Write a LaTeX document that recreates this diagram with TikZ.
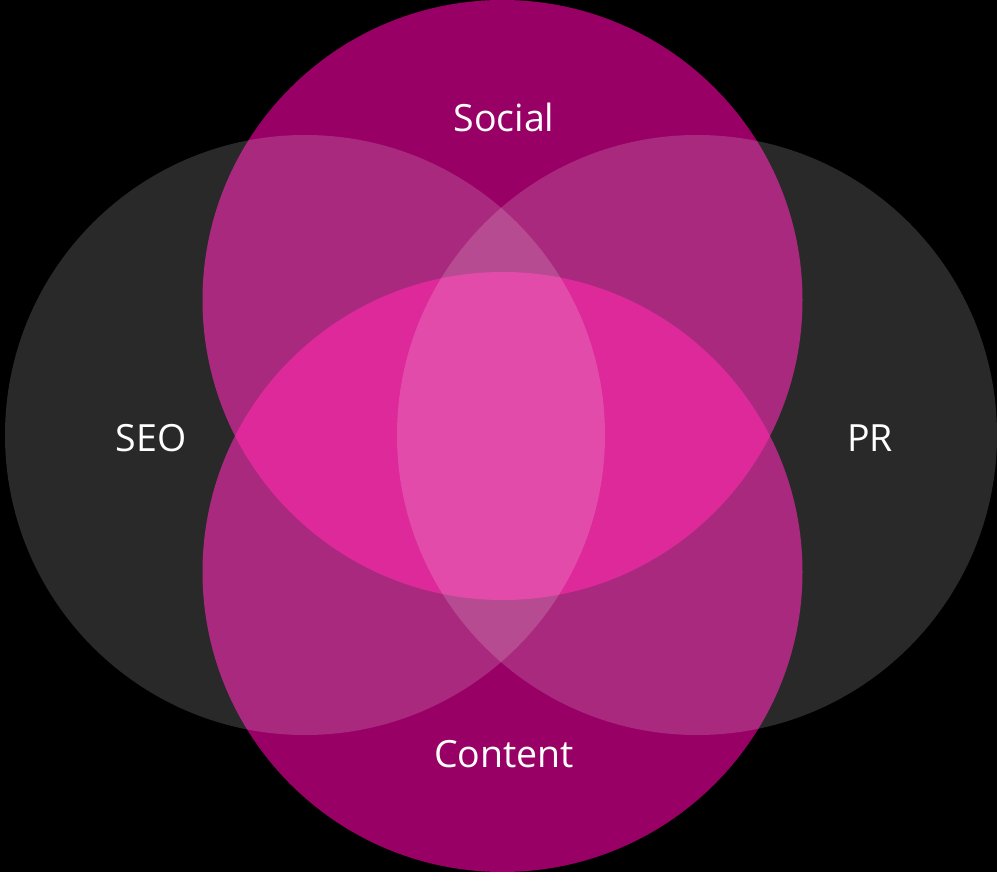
\documentclass[tikz,border=0pt]{standalone}
\usepackage{fontspec}
\setmainfont{Open Sans}
\definecolor{magbase}{HTML}{990066}
\definecolor{magboth}{HTML}{D70087}
\tikzset{
  lbl/.style={text=white, anchor=base, inner sep=0pt, font=\fontsize{37.5}{42}\selectfont},
  greylayer/.style={fill=white, fill opacity=0.16}
}
\begin{document}
\begin{tikzpicture}[x=1pt,y=-1pt]
\fill[black] (0,0) rectangle (997,872);
\useasboundingbox (0,0) rectangle (997,872);
\coordinate (seo) at (305,435);
\coordinate (pr) at (697,435);
\coordinate (social) at (502.5,300);
\coordinate (content) at (502.5,572);
\fill[magbase] (social) circle (300pt);
\fill[magbase] (content) circle (300pt);
\begin{scope}
  \clip (social) circle (300pt);
  \fill[magboth] (content) circle (300pt);
\end{scope}
\fill[greylayer] (seo) circle (300pt);
\fill[greylayer] (pr) circle (300pt);
\node[lbl] (lsocial) at (504,132) {Social};
\node[lbl] (lseo) at (151,451) {SEO};
\node[lbl] (lpr) at (870,451) {PR};
\node[lbl] (lcontent) at (504,767) {Content};
\end{tikzpicture}
\end{document}
